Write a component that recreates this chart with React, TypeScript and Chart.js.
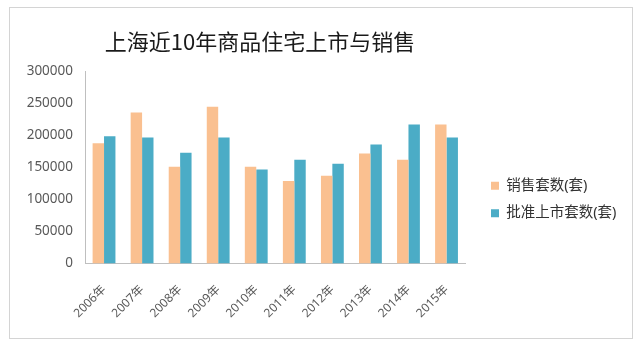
import React, { useEffect, useRef } from 'react';
import { Chart, registerables } from 'chart.js';

Chart.register(...registerables);

const titleText = '上海近10年商品住宅上市与销售';
const categories = ['2006年', '2007年', '2008年', '2009年', '2010年', '2011年', '2012年', '2013年', '2014年', '2015年'];
const salesLabel = '销售套数(套)';
const approvedLabel = '批准上市套数(套)';
const salesValues = [188000, 236000, 151000, 245000, 151000, 129000, 137000, 172000, 162000, 217000];
const approvedValues = [199000, 197000, 173000, 197000, 147000, 162000, 156000, 186000, 217000, 197000];
const yMin = 0;
const yMax = 300000;
const yStep = 50000;

const FONT = "'Noto Sans', 'Noto Sans CJK SC', sans-serif";

const framePlugin = {
  id: 'frame',
  beforeDraw(chart: any) {
    const ctx = chart.ctx;
    ctx.save();
    ctx.fillStyle = '#ffffff';
    ctx.fillRect(0, 0, chart.width, chart.height);
    ctx.strokeStyle = '#d4d4d4';
    ctx.lineWidth = 1;
    ctx.strokeRect(9.5, 7.5, 623, 331);
    ctx.restore();
  },
};

const boxShift = {
  id: 'boxShift',
  afterLayout(chart: any) {
    const l = chart.legend;
    if (l) {
      const dx = 478 - l.left;
      const dy = 24;
      l.left += dx;
      l.right += dx;
      l.top += dy;
      l.bottom += dy;
    }
    const t = chart.titleBlock;
    if (t) {
      t.left = 0;
      t.right = 520;
    }
  },
};

export default function App() {
  const ref = useRef<HTMLCanvasElement>(null);
  useEffect(() => {
    document.body.style.margin = '0';
    const chart = new Chart(ref.current as HTMLCanvasElement, {
      type: 'bar',
      data: {
        labels: categories,
        datasets: [
          { label: salesLabel, data: salesValues, backgroundColor: '#FAC090', categoryPercentage: 0.6, barPercentage: 1.0 },
          { label: approvedLabel, data: approvedValues, backgroundColor: '#4BACC6', categoryPercentage: 0.6, barPercentage: 1.0 },
        ],
      },
      options: {
        animation: false,
        responsive: false,
        layout: { padding: { left: 0, right: 26, top: 0, bottom: 0 } },
        plugins: {
          title: {
            display: true,
            text: titleText,
            color: '#1a1a1a',
            font: { family: "'Noto Sans CJK SC', sans-serif", size: 22, weight: 'normal' },
            padding: { top: 28, bottom: 17.1 },
          },
          legend: {
            position: 'right',
            labels: {
              boxWidth: 8,
              boxHeight: 8,
              padding: 13,
              color: '#333333',
              font: { family: FONT, size: 14.5 },
            },
          },
          tooltip: { enabled: false },
        },
        scales: {
          x: {
            grid: { display: false, drawTicks: false },
            border: { display: true, color: '#BFBFBF' },
            ticks: {
              color: '#595959',
              font: { family: FONT, size: 12 },
              maxRotation: 45,
              minRotation: 45,
              padding: 19,
              labelOffset: 0,
            },
            afterFit(scale: any) {
              scale.height = 87.5;
            },
          },
          y: {
            min: yMin,
            max: yMax,
            grid: { display: false, drawTicks: false },
            border: { display: true, color: '#BFBFBF' },
            ticks: {
              stepSize: yStep,
              color: '#595959',
              font: { family: FONT, size: 13.5 },
              padding: 12,
              callback: (v: any) => String(v),
            },
            afterFit(scale: any) {
              scale.width = 85;
            },
          },
        },
      },
      plugins: [framePlugin, boxShift],
    });
    return () => chart.destroy();
  }, []);
  return (
    <div style={{ width: 640, height: 351 }}>
      <canvas ref={ref} width={640} height={351} />
    </div>
  );
}
